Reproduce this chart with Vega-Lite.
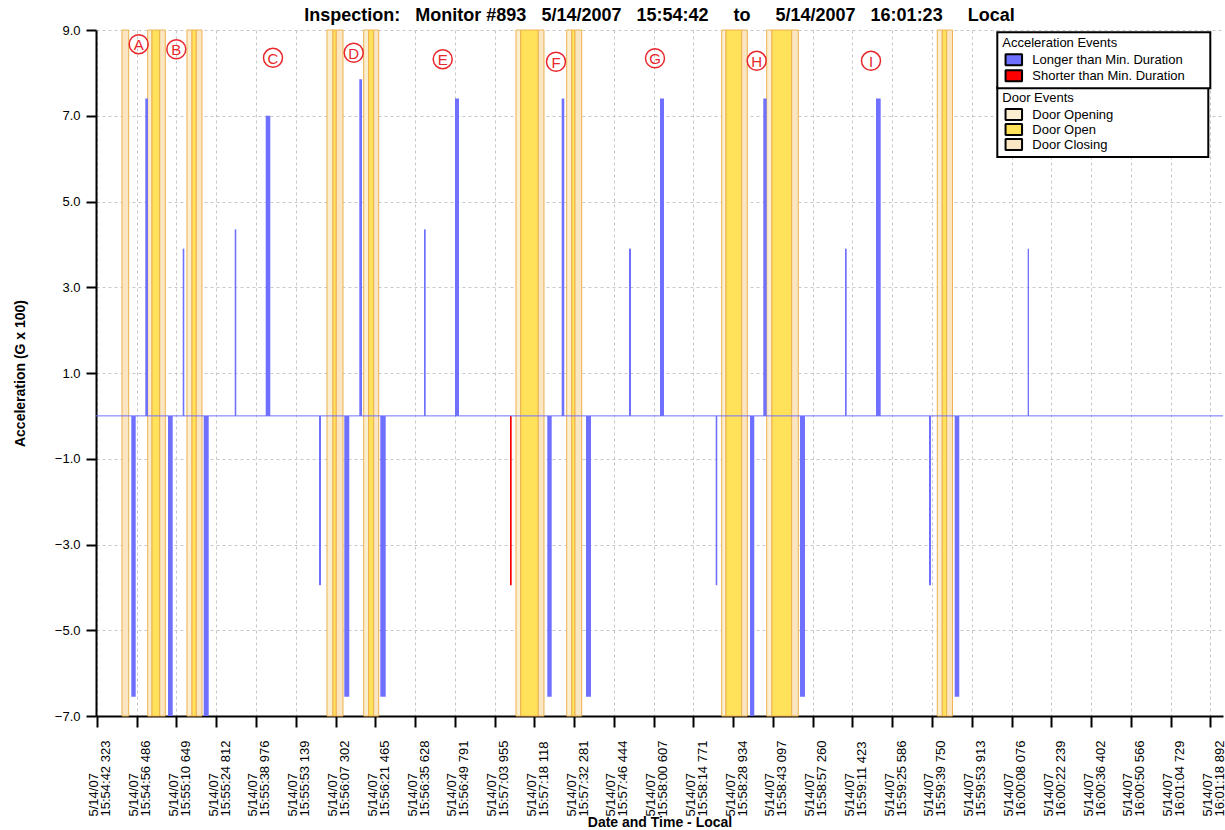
{
  "$schema": "https://vega.github.io/schema/vega-lite/v6.json",
  "width": 1127,
  "height": 686,
  "padding": {"left": 96, "top": 30, "right": 2, "bottom": 114},
  "autosize": {"type": "none"},
  "background": "white",
  "config": {"view": {"stroke": null}, "font": "Liberation Sans"},
  "title": {
    "text": "Inspection:\u00a0\u00a0\u00a0Monitor #893\u00a0\u00a0\u00a05/14/2007\u00a0\u00a0\u00a015:54:42\u00a0\u00a0\u00a0\u00a0\u00a0to\u00a0\u00a0\u00a0\u00a0\u00a05/14/2007\u00a0\u00a0\u00a016:01:23\u00a0\u00a0\u00a0\u00a0\u00a0Local",
    "fontSize": 18,
    "fontWeight": "bold",
    "color": "black",
    "anchor": "middle",
    "frame": "group",
    "baseline": "bottom",
    "offset": -19
  },
  "datasets": {
    "doors": [
      {"start": "2007-05-14T15:54:51.260Z", "end": "2007-05-14T15:54:53.646Z", "event": "Door Closing"},
      {"start": "2007-05-14T15:55:00.413Z", "end": "2007-05-14T15:55:01.945Z", "event": "Door Opening"},
      {"start": "2007-05-14T15:55:01.945Z", "end": "2007-05-14T15:55:04.687Z", "event": "Door Open"},
      {"start": "2007-05-14T15:55:04.687Z", "end": "2007-05-14T15:55:06.682Z", "event": "Door Closing"},
      {"start": "2007-05-14T15:55:14.411Z", "end": "2007-05-14T15:55:16.191Z", "event": "Door Opening"},
      {"start": "2007-05-14T15:55:16.191Z", "end": "2007-05-14T15:55:17.723Z", "event": "Door Open"},
      {"start": "2007-05-14T15:55:17.723Z", "end": "2007-05-14T15:55:19.753Z", "event": "Door Closing"},
      {"start": "2007-05-14T15:56:04.273Z", "end": "2007-05-14T15:56:06.410Z", "event": "Door Opening"},
      {"start": "2007-05-14T15:56:06.410Z", "end": "2007-05-14T15:56:07.585Z", "event": "Door Open"},
      {"start": "2007-05-14T15:56:07.585Z", "end": "2007-05-14T15:56:09.972Z", "event": "Door Closing"},
      {"start": "2007-05-14T15:56:17.344Z", "end": "2007-05-14T15:56:19.125Z", "event": "Door Opening"},
      {"start": "2007-05-14T15:56:19.125Z", "end": "2007-05-14T15:56:20.906Z", "event": "Door Open"},
      {"start": "2007-05-14T15:56:20.906Z", "end": "2007-05-14T15:56:22.686Z", "event": "Door Closing"},
      {"start": "2007-05-14T15:57:11.587Z", "end": "2007-05-14T15:57:13.261Z", "event": "Door Opening"},
      {"start": "2007-05-14T15:57:13.261Z", "end": "2007-05-14T15:57:19.530Z", "event": "Door Open"},
      {"start": "2007-05-14T15:57:19.530Z", "end": "2007-05-14T15:57:21.560Z", "event": "Door Closing"},
      {"start": "2007-05-14T15:57:29.645Z", "end": "2007-05-14T15:57:31.425Z", "event": "Door Opening"},
      {"start": "2007-05-14T15:57:31.425Z", "end": "2007-05-14T15:57:32.601Z", "event": "Door Open"},
      {"start": "2007-05-14T15:57:32.601Z", "end": "2007-05-14T15:57:34.987Z", "event": "Door Closing"},
      {"start": "2007-05-14T15:58:24.849Z", "end": "2007-05-14T15:58:26.381Z", "event": "Door Opening"},
      {"start": "2007-05-14T15:58:26.381Z", "end": "2007-05-14T15:58:31.973Z", "event": "Door Open"},
      {"start": "2007-05-14T15:58:31.973Z", "end": "2007-05-14T15:58:33.967Z", "event": "Door Closing"},
      {"start": "2007-05-14T15:58:40.876Z", "end": "2007-05-14T15:58:42.764Z", "event": "Door Opening"},
      {"start": "2007-05-14T15:58:42.764Z", "end": "2007-05-14T15:58:49.780Z", "event": "Door Open"},
      {"start": "2007-05-14T15:58:49.780Z", "end": "2007-05-14T15:58:52.131Z", "event": "Door Closing"},
      {"start": "2007-05-14T15:59:41.637Z", "end": "2007-05-14T15:59:43.418Z", "event": "Door Opening"},
      {"start": "2007-05-14T15:59:43.418Z", "end": "2007-05-14T15:59:44.985Z", "event": "Door Open"},
      {"start": "2007-05-14T15:59:44.985Z", "end": "2007-05-14T15:59:47.051Z", "event": "Door Closing"}
    ],
    "accel": [
      {"start": "2007-05-14T15:54:54.572Z", "end": "2007-05-14T15:54:56.140Z", "value": -6.55, "kind": "Longer than Min. Duration"},
      {"start": "2007-05-14T15:54:59.559Z", "end": "2007-05-14T15:55:00.520Z", "value": 7.4, "kind": "Longer than Min. Duration"},
      {"start": "2007-05-14T15:55:07.644Z", "end": "2007-05-14T15:55:09.317Z", "value": -7.0, "kind": "Longer than Min. Duration"},
      {"start": "2007-05-14T15:55:12.879Z", "end": "2007-05-14T15:55:13.449Z", "value": 3.9, "kind": "Longer than Min. Duration"},
      {"start": "2007-05-14T15:55:20.358Z", "end": "2007-05-14T15:55:22.139Z", "value": -7.0, "kind": "Longer than Min. Duration"},
      {"start": "2007-05-14T15:55:31.399Z", "end": "2007-05-14T15:55:31.969Z", "value": 4.35, "kind": "Longer than Min. Duration"},
      {"start": "2007-05-14T15:55:42.440Z", "end": "2007-05-14T15:55:44.079Z", "value": 7.0, "kind": "Longer than Min. Duration"},
      {"start": "2007-05-14T15:56:01.424Z", "end": "2007-05-14T15:56:02.136Z", "value": -3.95, "kind": "Longer than Min. Duration"},
      {"start": "2007-05-14T15:56:10.435Z", "end": "2007-05-14T15:56:12.215Z", "value": -6.55, "kind": "Longer than Min. Duration"},
      {"start": "2007-05-14T15:56:15.777Z", "end": "2007-05-14T15:56:16.739Z", "value": 7.85, "kind": "Longer than Min. Duration"},
      {"start": "2007-05-14T15:56:23.256Z", "end": "2007-05-14T15:56:25.179Z", "value": -6.55, "kind": "Longer than Min. Duration"},
      {"start": "2007-05-14T15:56:38.820Z", "end": "2007-05-14T15:56:39.426Z", "value": 4.35, "kind": "Longer than Min. Duration"},
      {"start": "2007-05-14T15:56:49.861Z", "end": "2007-05-14T15:56:51.285Z", "value": 7.4, "kind": "Longer than Min. Duration"},
      {"start": "2007-05-14T15:57:09.450Z", "end": "2007-05-14T15:57:10.055Z", "value": -3.95, "kind": "Shorter than Min. Duration"},
      {"start": "2007-05-14T15:57:22.735Z", "end": "2007-05-14T15:57:24.302Z", "value": -6.55, "kind": "Longer than Min. Duration"},
      {"start": "2007-05-14T15:57:27.864Z", "end": "2007-05-14T15:57:28.790Z", "value": 7.4, "kind": "Longer than Min. Duration"},
      {"start": "2007-05-14T15:57:36.518Z", "end": "2007-05-14T15:57:38.298Z", "value": -6.55, "kind": "Longer than Min. Duration"},
      {"start": "2007-05-14T15:57:51.833Z", "end": "2007-05-14T15:57:52.545Z", "value": 3.9, "kind": "Longer than Min. Duration"},
      {"start": "2007-05-14T15:58:02.874Z", "end": "2007-05-14T15:58:04.299Z", "value": 7.4, "kind": "Longer than Min. Duration"},
      {"start": "2007-05-14T15:58:22.712Z", "end": "2007-05-14T15:58:23.282Z", "value": -3.95, "kind": "Longer than Min. Duration"},
      {"start": "2007-05-14T15:58:34.929Z", "end": "2007-05-14T15:58:36.460Z", "value": -7.0, "kind": "Longer than Min. Duration"},
      {"start": "2007-05-14T15:58:39.665Z", "end": "2007-05-14T15:58:40.876Z", "value": 7.4, "kind": "Longer than Min. Duration"},
      {"start": "2007-05-14T15:58:52.737Z", "end": "2007-05-14T15:58:54.518Z", "value": -6.55, "kind": "Longer than Min. Duration"},
      {"start": "2007-05-14T15:59:08.764Z", "end": "2007-05-14T15:59:09.370Z", "value": 3.9, "kind": "Longer than Min. Duration"},
      {"start": "2007-05-14T15:59:19.805Z", "end": "2007-05-14T15:59:21.479Z", "value": 7.4, "kind": "Longer than Min. Duration"},
      {"start": "2007-05-14T15:59:38.682Z", "end": "2007-05-14T15:59:39.394Z", "value": -3.95, "kind": "Longer than Min. Duration"},
      {"start": "2007-05-14T15:59:47.834Z", "end": "2007-05-14T15:59:49.473Z", "value": -6.55, "kind": "Longer than Min. Duration"},
      {"start": "2007-05-14T16:00:13.836Z", "end": "2007-05-14T16:00:14.299Z", "value": 3.9, "kind": "Longer than Min. Duration"}
    ],
    "notes": [
      {"t": "2007-05-14T15:54:57.208Z", "y": 8.67, "letter": "A"},
      {"t": "2007-05-14T15:55:10.600Z", "y": 8.55, "letter": "B"},
      {"t": "2007-05-14T15:55:45.040Z", "y": 8.35, "letter": "C"},
      {"t": "2007-05-14T15:56:13.782Z", "y": 8.47, "letter": "D"},
      {"t": "2007-05-14T15:56:45.481Z", "y": 8.32, "letter": "E"},
      {"t": "2007-05-14T15:57:25.834Z", "y": 8.26, "letter": "F"},
      {"t": "2007-05-14T15:58:01.093Z", "y": 8.34, "letter": "G"},
      {"t": "2007-05-14T15:58:37.315Z", "y": 8.28, "letter": "H"},
      {"t": "2007-05-14T15:59:18.024Z", "y": 8.28, "letter": "I"}
    ],
    "zero": [{"v": 0}]
  },
  "layer": [
    {
      "data": {"name": "doors"},
      "mark": {"type": "rect", "stroke": "#EDB24E", "strokeWidth": 1},
      "encoding": {
        "x": {"field": "start", "type": "temporal", "title": "Date and Time - Local"},
        "x2": {"field": "end"},
        "fill": {
          "field": "event",
          "type": "nominal",
          "scale": {"domain": ["Door Opening", "Door Open", "Door Closing"], "range": ["#FCEED0", "#FFE15A", "#FAE6C2"]},
          "legend": {
            "orient": "none",
            "legendX": 901.3,
            "legendY": 57,
            "title": "Door Events",
            "titleFontWeight": "normal",
            "titleFontSize": 13,
            "titleColor": "black",
            "titlePadding": 3,
            "labelFontSize": 13,
            "labelColor": "black",
            "labelOffset": 12,
            "labelLimit": 0,
            "rowPadding": 1,
            "padding": 5,
            "symbolOffset": 5,
            "symbolType": "M-1.65,-1.1H1.65V1.1H-1.65Z",
            "symbolSize": 100,
            "symbolStrokeWidth": 2,
            "symbolStrokeColor": "black",
            "strokeColor": "black",
            "fillColor": "white",
            "labelExpr": "datum.label + '\u2800\u2800\u2800\u2800\u2800\u2800\u2800\u2800\u2800'",
            "encode": {
              "symbols": {"update": {"stroke": {"value": "black"}, "strokeWidth": {"value": 2}, "strokeJoin": {"value": "bevel"}, "opacity": {"value": 1}}},
              "legend": {"update": {"strokeWidth": {"value": 2}}}
            }
          }
        }
      }
    },
    {
      "data": {"name": "accel"},
      "mark": {"type": "rect"},
      "encoding": {
        "x": {
          "field": "start",
          "type": "temporal",
          "scale": {
            "type": "utc",
            "domain": [
              {"year": 2007, "month": 5, "date": 14, "hours": 15, "minutes": 54, "seconds": 42, "milliseconds": 0, "utc": true},
              {"year": 2007, "month": 5, "date": 14, "hours": 16, "minutes": 1, "seconds": 23, "milliseconds": 400, "utc": true}
            ]
          },
          "axis": {
            "values": [1179158082323, 1179158096486, 1179158110649, 1179158124812, 1179158138976, 1179158153139, 1179158167302, 1179158181465, 1179158195628, 1179158209791, 1179158223955, 1179158238118, 1179158252281, 1179158266444, 1179158280607, 1179158294771, 1179158308934, 1179158323097, 1179158337260, 1179158351423, 1179158365586, 1179158379750, 1179158393913, 1179158408076, 1179158422239, 1179158436402, 1179158450566, 1179158464729, 1179158478892],
            "title": "Date and Time - Local",
            "titleFontSize": 14,
            "titleFontWeight": "bold",
            "titleColor": "black",
            "titleY": 99,
            "titleBaseline": "top",
            "labelExpr": "[utcFormat(datum.value, '%-m/%d/%y'), utcFormat(datum.value, '%H:%M:%S %L')]",
            "labelAngle": 270,
            "labelAlign": "left",
            "labelBaseline": "middle",
            "labelPadding": 89,
            "labelOffset": -3,
            "labelFontSize": 13,
            "labelColor": "black",
            "labelLineHeight": 12,
            "labelOverlap": false,
            "labelFlush": false,
            "labelBound": false,
            "tickSize": 11,
            "tickWidth": 2,
            "tickColor": "black",
            "domainColor": "black",
            "domainWidth": 2,
            "grid": true,
            "gridColor": "#C8C8C8",
            "gridDash": [3, 3],
            "gridWidth": 1
          }
        },
        "x2": {"field": "end"},
        "y": {
          "field": "value",
          "type": "quantitative",
          "scale": {"domain": [-7, 9], "nice": false, "zero": false},
          "axis": {
            "values": [-7, -5, -3, -1, 1, 3, 5, 7, 9],
            "format": ".1f",
            "title": "Acceleration (G x 100)",
            "titleFontSize": 14,
            "titleFontWeight": "bold",
            "titleColor": "black",
            "titleX": -76,
            "titleY": 343,
            "titleAngle": 270,
            "titleAlign": "center",
            "titleBaseline": "middle",
            "labelFontSize": 13,
            "labelColor": "black",
            "labelPadding": 6,
            "tickSize": 10,
            "tickWidth": 2,
            "tickColor": "black",
            "domainColor": "black",
            "domainWidth": 2,
            "grid": true,
            "gridColor": "#C8C8C8",
            "gridDash": [3, 3],
            "gridWidth": 1
          }
        },
        "y2": {"datum": 0},
        "color": {
          "field": "kind",
          "type": "nominal",
          "scale": {"domain": ["Longer than Min. Duration", "Shorter than Min. Duration"], "range": ["#7070FF", "#FF0000"]},
          "legend": {
            "orient": "none",
            "legendX": 901.3,
            "legendY": 2.3,
            "title": "Acceleration Events",
            "titleFontWeight": "normal",
            "titleFontSize": 13,
            "titleColor": "black",
            "titlePadding": 3,
            "labelFontSize": 13,
            "labelColor": "black",
            "labelOffset": 12,
            "labelLimit": 0,
            "rowPadding": 2,
            "padding": 5,
            "symbolOffset": 5,
            "symbolType": "M-1.65,-1.1H1.65V1.1H-1.65Z",
            "symbolSize": 100,
            "symbolStrokeWidth": 2,
            "symbolStrokeColor": "black",
            "strokeColor": "black",
            "fillColor": "white",
            "labelExpr": "datum.label + '\u2800\u2800'",
            "encode": {
              "symbols": {"update": {"stroke": {"value": "black"}, "strokeWidth": {"value": 2}, "strokeJoin": {"value": "bevel"}, "opacity": {"value": 1}}},
              "legend": {"update": {"strokeWidth": {"value": 2}}}
            }
          }
        }
      }
    },
    {
      "data": {"name": "zero"},
      "mark": {"type": "rule", "color": "#7070FF", "strokeWidth": 1},
      "encoding": {"y": {"field": "v", "type": "quantitative", "title": "Acceleration (G x 100)"}}
    },
    {
      "data": {"name": "notes"},
      "mark": {"type": "point", "shape": "circle", "size": 361, "filled": false, "stroke": "#E8262C", "strokeWidth": 1.5, "opacity": 1},
      "encoding": {
        "x": {"field": "t", "type": "temporal", "title": "Date and Time - Local"},
        "y": {"field": "y", "type": "quantitative", "title": "Acceleration (G x 100)"}
      }
    },
    {
      "data": {"name": "notes"},
      "mark": {"type": "text", "fontSize": 15, "color": "#E8262C", "align": "center", "baseline": "middle", "dy": 1},
      "encoding": {
        "x": {"field": "t", "type": "temporal", "title": "Date and Time - Local"},
        "y": {"field": "y", "type": "quantitative", "title": "Acceleration (G x 100)"},
        "text": {"field": "letter"}
      }
    }
  ]
}
